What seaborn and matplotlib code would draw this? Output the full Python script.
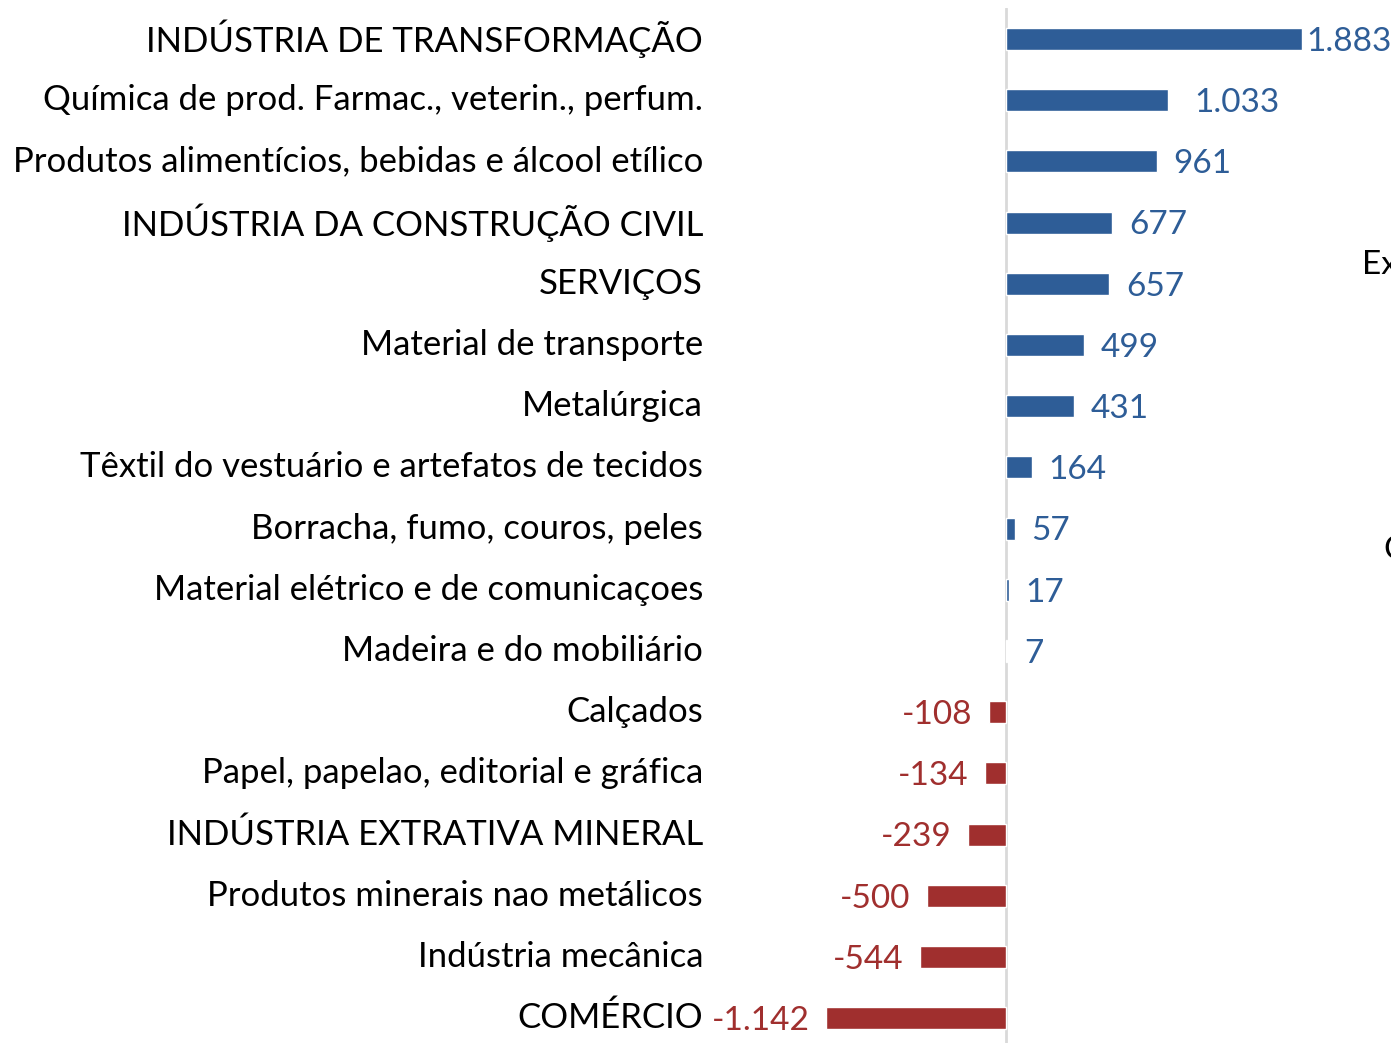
"""Saldo de empregos por setor - barras horizontais."""

import matplotlib

matplotlib.use("Agg")

import matplotlib.pyplot as plt
import pandas as pd
import seaborn as sns

setores = [
    "INDÚSTRIA DE TRANSFORMAÇÃO",
    "Química de prod. Farmac., veterin., perfum.",
    "Produtos alimentícios, bebidas e álcool etílico",
    "INDÚSTRIA DA CONSTRUÇÃO CIVIL",
    "SERVIÇOS",
    "Material de transporte",
    "Metalúrgica",
    "Têxtil do vestuário e artefatos de tecidos",
    "Borracha, fumo, couros, peles",
    "Material elétrico e de comunicaçoes",
    "Madeira e do mobiliário",
    "Calçados",
    "Papel, papelao, editorial e gráfica",
    "INDÚSTRIA EXTRATIVA MINERAL",
    "Produtos minerais nao metálicos",
    "Indústria mecânica",
    "COMÉRCIO",
]
saldo = [1883, 1033, 961, 677, 657, 499, 431, 164, 57, 17, 7,
         -108, -134, -239, -500, -544, -1142]
rotulos = ["1.883", "1.033", "961", "677", "657", "499", "431", "164", "57", "17", "7",
           "-108", "-134", "-239", "-500", "-544", "-1.142"]

AZUL = "#2E5D97"
VERMELHO = "#A02F2E"
FONTE = ["Lato", "DejaVu Sans"]

df = pd.DataFrame({"setor": setores, "saldo": saldo, "rotulo": rotulos})
df["sinal"] = df["saldo"].ge(0).map({True: "pos", False: "neg"})

sns.set_theme(style="white")
plt.rcParams["font.family"] = FONTE

W, H = 1391, 1043
fig = plt.figure(figsize=(W / 100, H / 100), dpi=100)
# zero at x=1006 px, 0.1572 px per unit; rows 61.2 px apart starting at y=39
x0, scale = 1006, 0.1572
ax_left, ax_right = 710, 1391
top = 39 - 61.2 / 2
height = 61.2 * len(setores)
ax = fig.add_axes([ax_left / W, 1 - (top + height) / H, (ax_right - ax_left) / W, height / H])

sns.barplot(data=df, y="setor", x="saldo", hue="sinal", orient="h",
            palette={"pos": AZUL, "neg": VERMELHO}, width=0.36, dodge=False,
            legend=False, ax=ax, saturation=1)
ax.set_xlim((ax_left - x0) / scale, (ax_right - x0) / scale)
ax.set_ylim(len(setores) - 0.5, -0.5)
ax.axvline(0, color="#D9D9D9", linewidth=2, zorder=0)
for s in ax.spines.values():
    s.set_visible(False)
ax.set_xticks([])
ax.set_xlabel("")
ax.set_ylabel("")
ax.tick_params(axis="y", length=0, pad=5)
ax.set_yticks(range(len(setores)))
ax.set_yticklabels(setores, fontsize=25, color="black", va="center")
for t in ax.get_yticklabels():
    t.set_y(t.get_position()[1])

offsets = {"1.883": 3, "1.033": 19}
for i, row in df.iterrows():
    off = offsets.get(row["rotulo"], 12)
    if row["saldo"] >= 0:
        ax.annotate(row["rotulo"], (row["saldo"], i), xytext=(off, -2), textcoords="offset points",
                    ha="left", va="center", color=AZUL, fontsize=24)
    else:
        ax.annotate(row["rotulo"], (row["saldo"], i), xytext=(-off, -2), textcoords="offset points",
                    ha="right", va="center", color=VERMELHO, fontsize=24)

# texto cortado na borda direita
fig.text(1362 / W, 1 - 265 / H, "Ex", fontsize=24, va="center", ha="left", color="black")
fig.text(1383 / W, 1 - 550 / H, "C", fontsize=24, va="center", ha="left", color="black")

fig.savefig("out.png", dpi=100)
